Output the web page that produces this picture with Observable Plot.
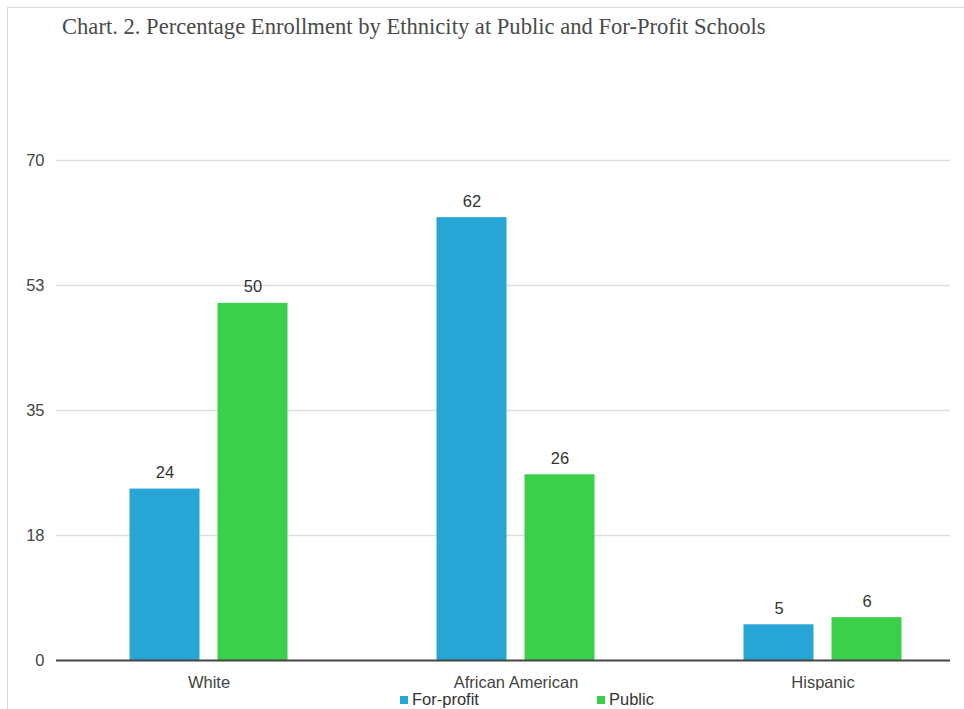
<!DOCTYPE html>
<html>
<head>
<meta charset="utf-8">
<script src="https://cdn.jsdelivr.net/npm/d3@7"></script>
<script src="https://cdn.jsdelivr.net/npm/@observablehq/plot@0.6"></script>
<style>
  html, body { margin: 0; padding: 0; background: #fff; }
  #wrap { position: relative; width: 964px; height: 709px; overflow: hidden; }
  #frame { position: absolute; left: 7px; top: 7px; width: 1000px; height: 1000px;
           border-left: 1px solid #d9d9d9; border-top: 1px solid #d9d9d9; }
  #title { position: absolute; left: 62px; top: 14px; font-family: "Liberation Serif", "Times New Roman", serif;
           font-size: 22.6px; color: #4a4a4a; white-space: nowrap; }
  #chart { position: absolute; left: 0; top: 0; }
  #legend { position: absolute; top: 690px; left: 0; width: 964px; height: 19px;
            font-family: "Liberation Sans", Arial, sans-serif; font-size: 16.5px; color: #333; }
  .item { position: absolute; top: 0; white-space: nowrap; }
  .sw { display: inline-block; width: 8px; height: 8px; margin-right: 4px; vertical-align: 1px; }
</style>
</head>
<body>
<div id="wrap">
  <div id="frame"></div>
  <div id="title">Chart. 2. Percentage Enrollment by Ethnicity at Public and For-Profit Schools</div>
  <div id="chart"></div>
  <div id="legend"></div>
</div>
<script>
const categories = ["White", "African American", "Hispanic"];
const series = ["For-profit", "Public"];
const forProfit = [24, 62, 5];
const publicVals = [50, 26, 6];
const yTicks = [0, 17.5, 35, 52.5, 70];
const yTickLabels = ["0", "18", "35", "53", "70"];
const colors = ["#27a5d4", "#3bcf4b"];

const data = [];
categories.forEach((c, i) => {
  data.push({category: c, series: series[0], value: forProfit[i]});
  data.push({category: c, series: series[1], value: publicVals[i]});
});

const step = 307;
const barW = 70;
const inset = (step - barW) / 2;
const offset = 44;

function seriesMarks(s, k) {
  const d = data.filter(r => r.series === s);
  const dx = k === 0 ? -offset : offset;
  return [
    Plot.barY(d, {x: "category", y: "value", fill: colors[k], insetLeft: inset + dx, insetRight: inset - dx}),
    Plot.text(d, {x: "category", y: "value", text: r => String(r.value), dx: dx, dy: -11,
      lineAnchor: "bottom", fill: "#333", fontSize: 16.5})
  ];
}

const chart = Plot.plot({
  width: 964,
  height: 690,
  marginTop: 160,
  marginBottom: 30,
  marginLeft: 56,
  marginRight: 14,
  style: {fontFamily: "'Liberation Sans', Arial, sans-serif", background: "transparent"},
  x: {domain: categories, range: [55, 976], padding: 0, label: null},
  y: {domain: [0, 70], label: null},
  marks: [
    Plot.ruleY(yTicks.slice(1), {stroke: "#dedede", strokeWidth: 1.3}),
    ...seriesMarks(series[0], 0),
    ...seriesMarks(series[1], 1),
    Plot.ruleY([0], {stroke: "#444", strokeWidth: 2}),
    Plot.axisY({ticks: yTicks, tickFormat: (d) => yTickLabels[yTicks.indexOf(d)], tickSize: 0, tickPadding: 12,
      fontSize: 16.5, fill: "#444", label: null}),
    Plot.axisX({tickSize: 0, tickPadding: 16, fontSize: 16.5, fill: "#444", label: null})
  ]
});
document.getElementById("chart").appendChild(chart);

const legend = document.getElementById("legend");
const lx = [400, 597];
series.forEach((s, i) => {
  const el = document.createElement("div");
  el.className = "item";
  el.style.left = lx[i] + "px";
  el.innerHTML = `<span class="sw" style="background:${colors[i]}"></span>${s}`;
  legend.appendChild(el);
});
</script>
</body>
</html>
